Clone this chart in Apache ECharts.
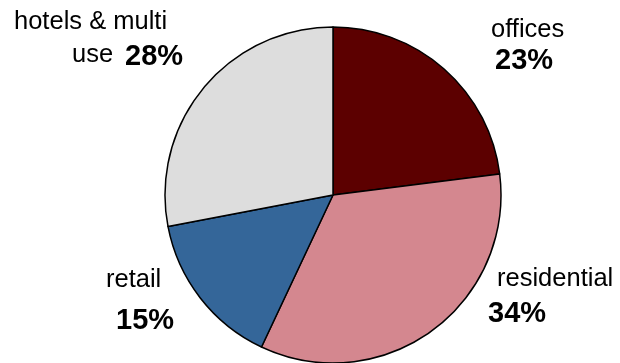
<!DOCTYPE html>
<html>
<head>
<meta charset="utf-8">
<script src="https://cdn.jsdelivr.net/npm/echarts@6/dist/echarts.min.js"></script>
<style>
  html, body { margin: 0; padding: 0; background: #ffffff; }
  #chart { width: 620px; height: 363px; }
</style>
</head>
<body>
<div id="chart"></div>
<script>
// Share of floor space by use
const categories = ['offices', 'residential', 'retail', 'hotels & multi use'];
const shares = [23, 34, 15, 28];
const sliceColors = ['#5c0000', '#d4878f', '#346699', '#dddddd'];

// Label placement: name lines and percentage anchor for each slice
const labelSpots = [
  { name: [{ t: 'offices', x: 491, y: 29.5 }], pct: { x: 495, y: 61 } },
  { name: [{ t: 'residential', x: 497, y: 279 }], pct: { x: 488, y: 314 } },
  { name: [{ t: 'retail', x: 106, y: 280 }], pct: { x: 116, y: 321 } },
  { name: [{ t: 'hotels & multi', x: 14, y: 21.5 }, { t: 'use', x: 72, y: 55 }], pct: { x: 125, y: 57 } }
];

const FONT = 'Liberation Sans, Arial, Helvetica, sans-serif';

const graphics = [];
labelSpots.forEach((spot, i) => {
  spot.name.forEach(line => {
    graphics.push({
      type: 'text', x: line.x, y: line.y, silent: true,
      style: { text: line.t, fill: '#000', font: 'normal 25.5px ' + FONT,
               textAlign: 'left', textVerticalAlign: 'middle' }
    });
  });
  graphics.push({
    type: 'text', x: spot.pct.x, y: spot.pct.y, silent: true,
    style: { text: shares[i] + '%', fill: '#000', font: 'bold 29px ' + FONT,
             textAlign: 'left', textVerticalAlign: 'middle' }
  });
});

const chart = echarts.init(document.getElementById('chart'), null, { renderer: 'canvas' });
chart.setOption({
  animation: false,
  backgroundColor: '#ffffff',
  series: [{
    type: 'pie',
    center: [333, 195],
    radius: [0, 168],
    startAngle: 90,
    clockwise: true,
    silent: true,
    label: { show: false },
    labelLine: { show: false },
    itemStyle: { borderColor: '#000000', borderWidth: 1.5 },
    data: categories.map((c, i) => ({
      name: c, value: shares[i], itemStyle: { color: sliceColors[i] }
    }))
  }],
  graphic: graphics
});
</script>
</body>
</html>
